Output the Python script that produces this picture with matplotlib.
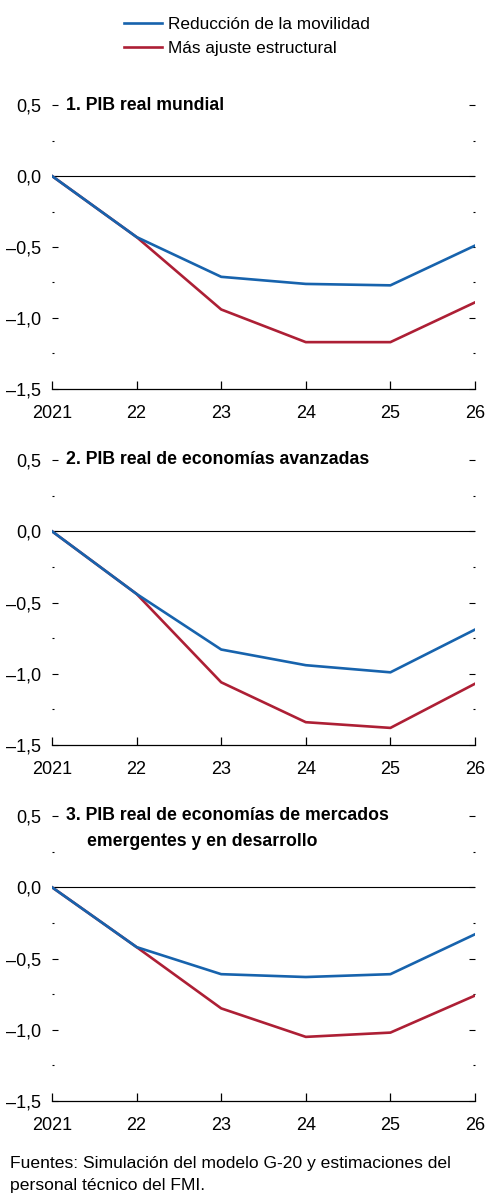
import numpy as np
import matplotlib
matplotlib.use('Agg')
import matplotlib.pyplot as plt
from matplotlib.ticker import FixedLocator, MultipleLocator, FuncFormatter
from matplotlib.lines import Line2D

plt.rcParams['font.family'] = ['Liberation Sans', 'DejaVu Sans']

# datos
years = [2021, 2022, 2023, 2024, 2025, 2026]
year_labels = ['2021', '22', '23', '24', '25', '26']
series_names = ['Reducción de la movilidad', 'Más ajuste estructural']

mundial_mov = [0.0, -0.43, -0.71, -0.76, -0.77, -0.49]
mundial_aju = [0.0, -0.43, -0.94, -1.17, -1.17, -0.89]

avanz_mov = [0.0, -0.44, -0.83, -0.94, -0.99, -0.69]
avanz_aju = [0.0, -0.44, -1.06, -1.34, -1.38, -1.07]

emerg_mov = [0.0, -0.42, -0.61, -0.63, -0.61, -0.33]
emerg_aju = [0.0, -0.42, -0.85, -1.05, -1.02, -0.76]

titles = ['1. PIB real mundial',
          '2. PIB real de economías avanzadas',
          '3. PIB real de economías de mercados']
title3_line2 = 'emergentes y en desarrollo'
fuente1 = 'Fuentes: Simulación del modelo G-20 y estimaciones del'
fuente2 = 'personal técnico del FMI.'

blue = '#1763ad'
red = '#ad1f35'

W, H = 487, 1202
fig = plt.figure(figsize=(W / 100, H / 100), dpi=100)

# posiciones de los paneles en pixeles (arriba, abajo)
panels = [(105, 389), (460, 745), (816, 1101)]
left_px, right_px = 52, 475
data = [(mundial_mov, mundial_aju), (avanz_mov, avanz_aju), (emerg_mov, emerg_aju)]


def fmt(v, pos):
    s = '{:.1f}'.format(abs(v)).replace('.', ',')
    return ('\u2013' + s) if v < -1e-9 else s


for i, (top, bot) in enumerate(panels):
    ax = fig.add_axes([left_px / W, 1 - bot / H, (right_px - left_px) / W, (bot - top) / H])
    mov, aju = data[i]
    ax.axhline(0, color='black', lw=0.8, zorder=1)
    ax.plot(years, aju, color=red, lw=1.9, zorder=3)
    ax.plot(years, mov, color=blue, lw=1.9, zorder=4)
    ax.set_xlim(2021, 2026)
    ax.set_ylim(-1.5, 0.5)
    for s in ['left', 'right', 'top']:
        ax.spines[s].set_visible(False)
    ax.spines['bottom'].set_linewidth(0.9)
    ax.xaxis.set_major_locator(FixedLocator(years))
    ax.set_xticklabels(year_labels)
    ax.tick_params(axis='x', direction='in', length=6, width=0.9, pad=11.5, labelsize=13)
    ax.yaxis.set_major_locator(MultipleLocator(0.5))
    ax.yaxis.set_minor_locator(MultipleLocator(0.25))
    ax.yaxis.set_major_formatter(FuncFormatter(fmt))
    ax.tick_params(axis='y', which='major', direction='in', length=4.5, width=0.8,
                   left=True, right=True, pad=8, labelsize=13)
    ax.tick_params(axis='y', which='minor', direction='in', length=1.5, width=0.8,
                   left=True, right=True)
    ax.text(0.033, 1.0, titles[i], transform=ax.transAxes, fontsize=12.7,
            fontweight='bold', ha='left', va='center')
    if i == 2:
        ax.text(0.082, 0.912, title3_line2, transform=ax.transAxes, fontsize=12.7,
                fontweight='bold', ha='left', va='center')

handles = [Line2D([], [], color=blue, lw=1.9), Line2D([], [], color=red, lw=1.9)]
fig.legend(handles, series_names, loc='upper left', bbox_to_anchor=(117 / W, 1 - 10 / H),
           frameon=False, fontsize=12.4, handlelength=2.2, handletextpad=0.35,
           labelspacing=0.5, borderaxespad=0)

fig.text(10 / W, 1 - 1168 / H, fuente1, fontsize=12.6, ha='left', va='baseline')
fig.text(10 / W, 1 - 1190 / H, fuente2, fontsize=12.6, ha='left', va='baseline')

fig.savefig('out.png', dpi=100)
